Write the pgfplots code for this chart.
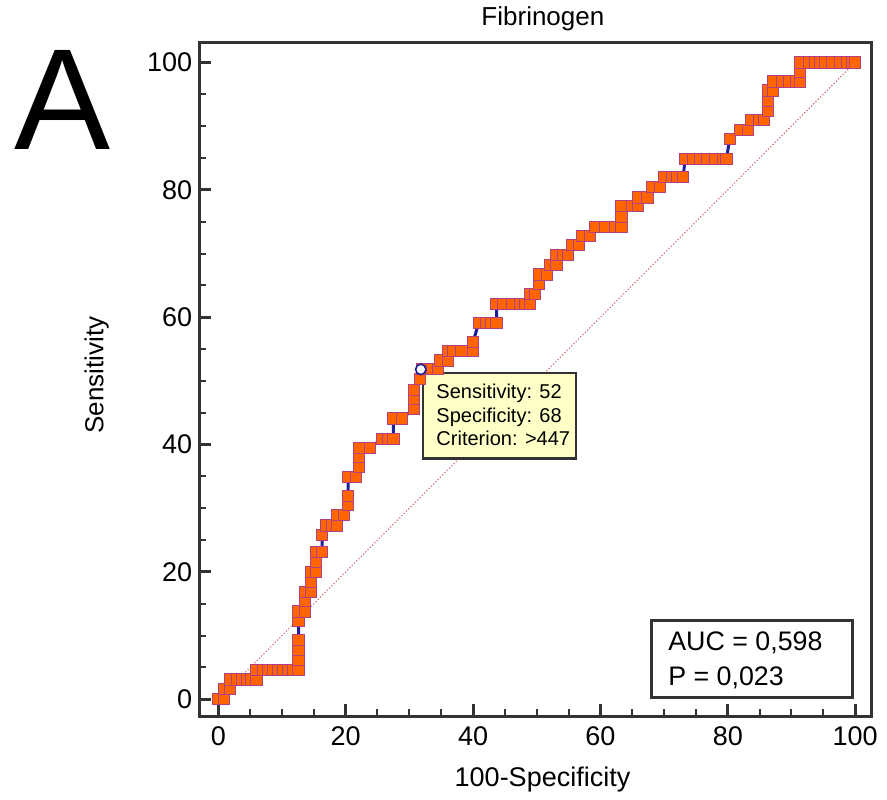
\documentclass[border=0pt]{standalone}
\usepackage{fontspec}
\setmainfont{Liberation Sans}
\usepackage{pgfplots}
\pgfplotsset{compat=1.18}
\definecolor{frame}{HTML}{333333}
\definecolor{rocfill}{HTML}{FF6400}
\definecolor{rocedge}{HTML}{B04080}
\definecolor{rocline}{HTML}{1E1E96}
\definecolor{diag}{HTML}{C86E6E}
\definecolor{tipfill}{HTML}{FFFFC8}

\begin{document}
\begin{tikzpicture}
\begin{axis}[
  at={(99.65pt,41.5pt)}, anchor=south west,
  scale only axis, width=336.2pt, height=336.65pt,
  xmin=-2.98, xmax=102.6, ymin=-2.62, ymax=103.1,
  axis line style={frame, line width=1.5pt},
  xtick={0,20,...,100}, ytick={0,20,...,100},
  minor tick num=3,
  xtick pos=bottom, ytick pos=left, tick align=inside,
  major tick length=6pt, minor tick length=3.5pt,
  major tick style={frame, line width=1.5pt},
  minor tick style={frame, line width=1pt},
  /pgf/number format/assume math mode=true,
  tick label style={font=\fontsize{13.5}{16}\selectfont},
  xticklabel style={yshift=-2pt},
  title={Fibrinogen},
  title style={at={(axis description cs:0.511,1.007)}, anchor=base, inner sep=0pt,
               font=\fontsize{13}{15}\selectfont},
  xlabel={100-Specificity},
  xlabel style={at={(axis description cs:0.5104,-0.105)}, anchor=base, inner sep=0pt,
                font=\fontsize{13.5}{16}\selectfont},
  ylabel={Sensitivity},
  ylabel style={at={(axis description cs:-0.1428,0.5065)}, anchor=base, inner sep=0pt,
                font=\fontsize{13}{16}\selectfont},
]
% reference line
\addplot[diag, densely dotted, line width=0.6pt] coordinates {(0,0) (100,100)};

% ROC curve
\addplot[rocline, line width=1.5pt, mark=square*, mark size=2.8pt,
         mark options={solid, fill=rocfill, draw=rocedge, line width=0.5pt}]
coordinates {
(0,0) (0.9,0) (0.9,1.6) (1.8,1.6) (1.8,3.1) (2.9,3.1) (3.7,3.1) (4.5,3.1)
(5.2,3.1) (6.0,3.1) (6.0,4.6) (7.1,4.6) (7.8,4.6) (8.6,4.6) (9.4,4.6)
(10.2,4.6) (11.0,4.6) (11.8,4.6) (12.6,4.6) (12.6,6.2) (12.6,7.7) (12.6,9.3)
(12.6,12.3) (12.6,13.8) (13.6,13.8) (13.6,15.4) (13.6,16.9) (14.5,16.9)
(14.5,18.5) (14.5,20.0) (15.4,20.0) (15.4,21.5) (15.4,23.1) (16.3,23.1)
(16.3,25.8) (16.9,27.3) (17.8,27.3) (18.6,27.3) (18.6,28.9) (19.7,28.9)
(20.4,30.5) (20.4,31.9) (20.4,34.9) (21.6,34.9) (22.1,36.5) (22.1,38.0)
(22.1,39.5) (23.8,39.5) (25.7,40.9) (26.7,40.9) (27.5,40.9) (27.5,44.1)
(28.9,44.1) (30.7,45.6) (30.7,47.1) (30.7,48.6) (31.7,50.3) (32.0,51.9)
(33.5,51.9) (34.5,51.9) (34.8,53.2) (36.1,53.2) (36.1,54.7) (36.9,54.7)
(38.2,54.7) (40.0,54.7) (40.0,56.1) (40.9,59.1) (42.1,59.1) (42.9,59.1)
(43.7,59.1) (43.7,62.1) (44.7,62.1) (46.1,62.1) (47.4,62.1) (48.2,62.1)
(48.9,62.1) (48.9,63.7) (49.7,63.7) (50.4,65.2) (50.4,66.7) (51.6,66.7)
(52.1,68.2) (53.1,68.2) (53.1,69.8) (54.2,69.8) (54.9,69.8) (55.5,71.3)
(56.6,71.3) (57.2,72.8) (58.4,72.8) (59.2,74.1) (60.7,74.1) (62.3,74.1)
(63.3,74.1) (63.3,75.8) (63.3,77.4) (64.9,77.4) (65.9,77.4) (65.9,78.8)
(67.4,78.8) (68.1,80.4) (69.3,80.4) (70.0,82.0) (71.2,82.0) (72.1,82.0)
(73.0,82.0) (73.3,84.9) (74.6,84.9) (75.6,84.9) (76.7,84.9) (78.0,84.9)
(79.3,84.9) (79.8,84.9) (80.3,88.0) (81.9,89.4) (83.2,89.4) (83.6,91.0)
(84.9,91.0) (85.7,91.0) (86.3,92.4) (86.3,94.0) (86.3,95.6) (87.1,95.6)
(87.1,97.0) (88.6,97.0) (89.7,97.0) (90.8,97.0) (91.4,97.0) (91.4,98.5)
(91.4,100) (92.7,100) (93.7,100) (94.5,100) (95.3,100) (96.4,100)
(97.6,100) (98.7,100) (99.5,100) (100,100)
};

% tooltip for the chosen criterion
\draw[fill=tipfill, draw=frame, line width=1.2pt]
  (axis cs:32.1,37.8) rectangle (axis cs:56.2,51.2);
\node[anchor=base west, inner sep=0pt, font=\fontsize{10}{12}\selectfont]
  at (axis cs:34.2,47.2) {Sensitivity: 52};
\node[anchor=base west, inner sep=0pt, font=\fontsize{10}{12}\selectfont]
  at (axis cs:34.2,43.5) {Specificity: 68};
\node[anchor=base west, inner sep=0pt, font=\fontsize{10}{12}\selectfont]
  at (axis cs:34.2,39.9) {Criterion: >447};
\addplot[only marks, mark=*, mark size=2.6pt,
         mark options={fill=white, draw=rocline, line width=0.8pt}]
  coordinates {(31.8,51.8)};

% AUC box
\draw[fill=white, draw=frame, line width=1.5pt]
  (axis cs:68.1,0.3) rectangle (axis cs:99.6,12.4);
\node[anchor=base west, inner sep=0pt, font=\fontsize{13.4}{16}\selectfont]
  at (axis cs:70.6,7.6) {AUC = 0,598};
\node[anchor=base west, inner sep=0pt, font=\fontsize{13.4}{16}\selectfont]
  at (axis cs:70.6,2.2) {P = 0,023};
\end{axis}

\node[anchor=base west, inner sep=0pt, font=\fontsize{72}{80}\selectfont]
  at (7pt,324.5pt) {A};

\pgfresetboundingbox
\path[use as bounding box] (0,0) rectangle (443.5pt,399.5pt);
\end{tikzpicture}
\end{document}
